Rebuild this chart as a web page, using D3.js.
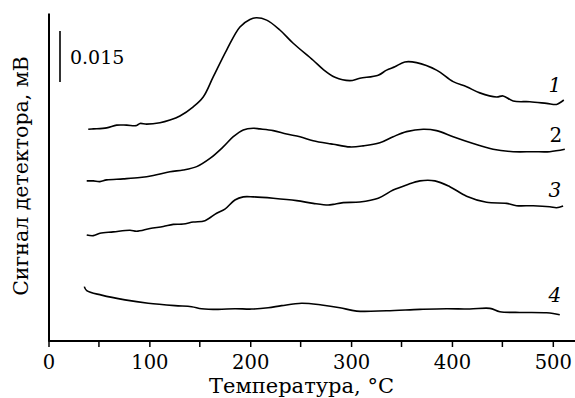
<!DOCTYPE html>
<html><head><meta charset="utf-8">
<script src="https://cdn.jsdelivr.net/npm/d3@7"></script>
<style>body{margin:0;background:#fff}svg{display:block}</style>
</head><body>
<script>
// Temperature (°C) and detector signal (mV)
const curve1 = [[39.4,0.0623],[44.4,0.0624],[57.7,0.0627],[67.6,0.0635],[77.5,0.0635],[87.4,0.0634],[90.7,0.0640],[97.3,0.0638],[110.5,0.0642],[120.4,0.0650],[130.3,0.0662],[143.5,0.0689],[153.4,0.0718],[163.3,0.0777],[176.6,0.0856],[189.8,0.0924],[199.7,0.0946],[206.3,0.0951],[216.3,0.0944],[229.4,0.0915],[242.6,0.0876],[262.4,0.0826],[272.0,0.0800],[284.0,0.0776],[298.8,0.0766],[308.7,0.0773],[326.9,0.0782],[335.2,0.0797],[343.4,0.0807],[353.3,0.0821],[364.9,0.0819],[384.7,0.0797],[401.2,0.0763],[414.5,0.0748],[427.6,0.0730],[444.2,0.0718],[450.7,0.0721],[460.7,0.0706],[477.2,0.0704],[493.8,0.0699],[503.7,0.0696],[507.0,0.0701],[510.9,0.0709]];
const curve2 = [[37.9,0.0471],[44.4,0.0471],[51.0,0.0469],[57.7,0.0474],[74.1,0.0477],[90.7,0.0481],[103.9,0.0487],[120.4,0.0498],[133.6,0.0503],[146.9,0.0513],[160.1,0.0537],[173.2,0.0571],[183.2,0.0601],[193.1,0.0621],[203.0,0.0626],[209.6,0.0624],[222.8,0.0619],[236.1,0.0609],[249.3,0.0601],[262.4,0.0589],[277.3,0.0581],[282.3,0.0579],[298.8,0.0571],[312.0,0.0574],[328.5,0.0583],[341.7,0.0601],[355.0,0.0616],[371.5,0.0623],[384.7,0.0619],[401.2,0.0601],[421.0,0.0581],[440.8,0.0564],[460.7,0.0557],[480.5,0.0557],[497.0,0.0557],[511.9,0.0564]];
const curve3 = [[37.9,0.0312],[44.4,0.0310],[51.0,0.0317],[64.2,0.0321],[80.8,0.0326],[87.4,0.0323],[100.6,0.0331],[113.8,0.0337],[123.7,0.0343],[133.6,0.0344],[143.5,0.0350],[155.1,0.0354],[166.7,0.0376],[174.9,0.0388],[184.8,0.0415],[193.1,0.0424],[203.0,0.0424],[222.8,0.0420],[246.0,0.0413],[262.4,0.0405],[277.3,0.0400],[282.3,0.0402],[292.2,0.0407],[308.7,0.0409],[326.9,0.0420],[341.7,0.0444],[355.0,0.0459],[368.2,0.0471],[383.1,0.0471],[397.9,0.0454],[414.5,0.0426],[434.3,0.0408],[454.1,0.0405],[464.0,0.0398],[480.5,0.0398],[497.0,0.0395],[503.7,0.0392],[510.2,0.0397]];
const curve4 = [[35.5,0.0160],[37.9,0.0148],[52.7,0.0135],[75.8,0.0121],[98.9,0.0111],[125.4,0.0104],[141.9,0.0101],[151.8,0.0095],[168.3,0.0093],[184.8,0.0095],[201.4,0.0094],[217.8,0.0098],[231.1,0.0104],[250.9,0.0111],[270.8,0.0106],[288.9,0.0098],[305.5,0.0088],[335.2,0.0089],[368.2,0.0093],[394.6,0.0095],[417.7,0.0094],[437.6,0.0096],[447.5,0.0086],[467.3,0.0084],[493.8,0.0083],[500.3,0.0081],[506.9,0.0077]];
const curveLabels = ["1","2","3","4"];
const labelPos = [[502,0.0732],[503,0.0585],[502,0.0424],[502,0.0115]];
const xTicks = [0,100,200,300,400,500];
const xMinorTicks = [50,150,250,350,450];
const scaleBar = {t:11.4, base:0.0762, size:0.015, label:"0.015"};
const xTitle = "Температура, °С";
const yTitle = "Сигнал детектора, мВ";

const W = 575, H = 398;
const svg = d3.select("body").append("svg").attr("width",W).attr("height",H);
const x = d3.scaleLinear().domain([0,522]).range([48.5,575]);
const y = d3.scaleLinear().domain([0,0.0965]).range([341,13]);
const font = "'DejaVu Serif', serif";

// axes
const xAxis = d3.axisBottom(x).tickValues(xTicks).tickSize(6).tickFormat(d3.format("d"));
const gx = svg.append("g").attr("transform",`translate(0,${y(0)})`).call(xAxis);
gx.select(".domain").attr("stroke","#000").attr("stroke-width",2).attr("d",`M${x(0)},0H${x(522)}`);
gx.selectAll(".tick line").attr("stroke","#000").attr("stroke-width",1.5);
gx.selectAll(".tick text").attr("font-family",font).attr("font-size",19.5).attr("fill","#000").attr("dy","0.95em");
gx.selectAll(".minor").data(xMinorTicks).enter().append("line").attr("class","minor")
  .attr("x1",d=>x(d)).attr("x2",d=>x(d)).attr("y1",0).attr("y2",6).attr("stroke","#000").attr("stroke-width",1.5);

const yAxis = d3.axisLeft(y).tickValues([]).tickSizeOuter(0);
const gy = svg.append("g").attr("transform",`translate(${x(0)},0)`).call(yAxis);
gy.select(".domain").attr("stroke","#000").attr("stroke-width",2);

// curves
const line = d3.line().x(d=>x(d[0])).y(d=>y(d[1])).curve(d3.curveCatmullRom.alpha(0.5));
[curve1,curve2,curve3,curve4].forEach(c=>{
  svg.append("path").datum(c).attr("d",line).attr("fill","none").attr("stroke","#000").attr("stroke-width",1.6).attr("stroke-linejoin","round");
});

// curve labels
svg.selectAll(".clab").data(curveLabels).enter().append("text").attr("class","clab")
  .attr("x",(d,i)=>x(labelPos[i][0])).attr("y",(d,i)=>y(labelPos[i][1]))
  .attr("text-anchor","middle").attr("font-family",font).attr("font-size",20)
  .attr("font-style",(d,i)=>i===1?"normal":"italic").text(d=>d);

// scale bar
svg.append("line").attr("x1",x(scaleBar.t)).attr("x2",x(scaleBar.t))
  .attr("y1",y(scaleBar.base)).attr("y2",y(scaleBar.base+scaleBar.size))
  .attr("stroke","#000").attr("stroke-width",1.6);
svg.append("text").attr("x",x(scaleBar.t)+10).attr("y",y(scaleBar.base+scaleBar.size/2)+7)
  .attr("font-family",font).attr("font-size",19).text(scaleBar.label);

// titles
svg.append("text").attr("x",(205+398)/2).attr("y",393).attr("text-anchor","middle")
  .attr("font-family",font).attr("font-size",21).text(xTitle);
svg.append("text").attr("transform","translate(28,176) rotate(-90)").attr("text-anchor","middle")
  .attr("font-family",font).attr("font-size",20.5).text(yTitle);
</script>
</body></html>
